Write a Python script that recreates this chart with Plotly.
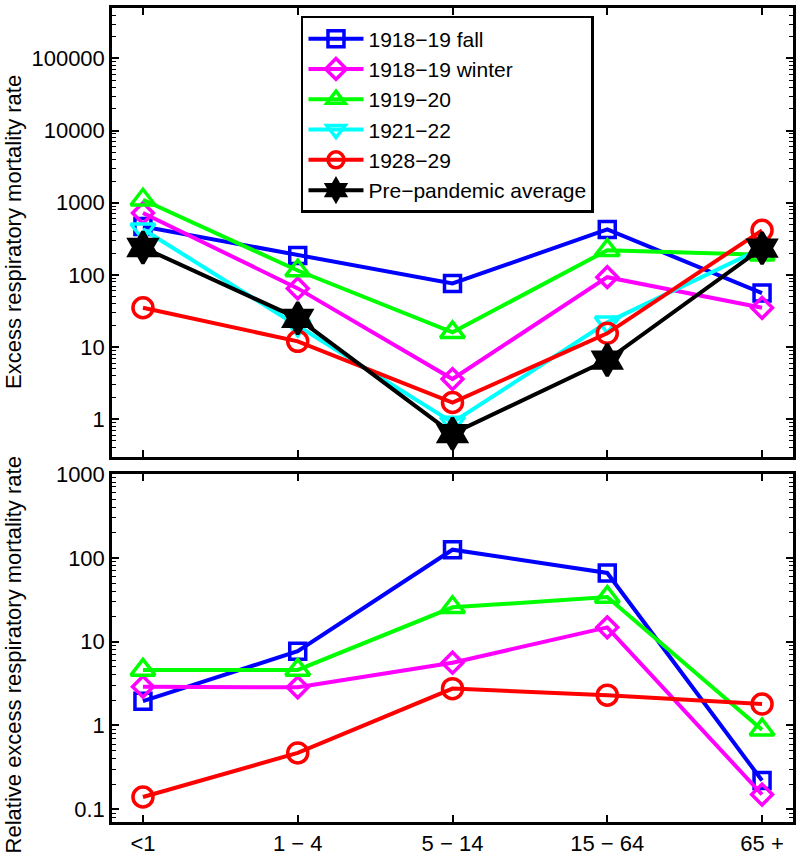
import plotly.graph_objects as go

age_groups = ["<1", "1 − 4", "5 − 14", "15 − 64", "65 +"]
series_names = ["1918−19 fall", "1918−19 winter", "1919−20", "1921−22", "1928−29", "Pre−pandemic average"]

# Top panel: excess respiratory mortality rate
excess_fall = [470, 186, 76, 427, 56]
excess_winter = [720, 65, 3.6, 93, 35]
excess_1919_20 = [1100, 115, 16, 220, 190]
excess_1921_22 = [430, 20, 0.9, 22, 235]
excess_1928_29 = [35, 12, 1.7, 15.5, 415]
excess_prepandemic = [240, 25, 0.63, 6.6, 235]

# Bottom panel: relative excess respiratory mortality rate
rel_fall = [1.95, 7.7, 125, 66, 0.22]
rel_winter = [2.9, 2.85, 5.6, 14.8, 0.15]
rel_1919_20 = [4.6, 4.6, 25.7, 34, 0.89]
rel_1928_29 = [0.14, 0.47, 2.75, 2.3, 1.8]

top_ticks = [1, 10, 100, 1000, 10000, 100000]
top_ticktext = ["1", "10", "100", "1000", "10000", "100000"]
bot_ticks = [0.1, 1, 10, 100, 1000]
bot_ticktext = ["0.1", "1", "10", "100", "1000"]

colors = ["#0000FF", "#FF00FF", "#00FF00", "#00FFFF", "#FF0000", "#000000"]
symbols = ["square-open", "diamond-open", "triangle-up-open", "triangle-down-open", "circle-open", "hexagram"]
sizes = [16, 16, 21, 21, 20, 24]

FONT = "Liberation Sans, Arial, Helvetica, sans-serif"


def minor_vals(lo_exp, hi_exp):
    out = []
    for e in range(lo_exp, hi_exp + 1):
        for m in range(2, 10):
            out.append(m * 10.0 ** e)
    return out


fig = go.Figure()

top_data = [excess_fall, excess_winter, excess_1919_20, excess_1921_22, excess_1928_29, excess_prepandemic]
for i, vals in enumerate(top_data):
    fig.add_trace(go.Scatter(
        x=age_groups, y=vals, name=series_names[i], mode="lines+markers",
        line=dict(color=colors[i], width=4),
        marker=dict(symbol=symbols[i], size=sizes[i], color=colors[i],
                    line=dict(color=colors[i], width=3.5)),
        xaxis="x", yaxis="y", showlegend=True))

bot_data = [(0, rel_fall), (1, rel_winter), (2, rel_1919_20), (4, rel_1928_29)]
for i, vals in bot_data:
    fig.add_trace(go.Scatter(
        x=age_groups, y=vals, name=series_names[i], mode="lines+markers",
        line=dict(color=colors[i], width=4),
        marker=dict(symbol=symbols[i], size=sizes[i], color=colors[i],
                    line=dict(color=colors[i], width=3.5)),
        xaxis="x2", yaxis="y2", showlegend=False))

axis_common = dict(showline=True, linecolor="black", linewidth=2.5, mirror="ticks",
                   ticks="inside", ticklen=7, tickwidth=1.5, tickcolor="black",
                   showgrid=False, zeroline=False, automargin=False,
                   tickfont=dict(family=FONT, size=22, color="black"))

fig.update_layout(
    template="none",
    width=800, height=859,
    margin=dict(l=112, r=7, t=8, b=37, autoexpand=False),
    paper_bgcolor="white", plot_bgcolor="white",
    font=dict(family=FONT, size=22, color="black"),
    xaxis=dict(type="category", range=[-0.2, 4.2], domain=[0, 1], anchor="y",
               showticklabels=False, **axis_common),
    yaxis=dict(type="log", range=[-0.52, 5.70], domain=[0.4488, 1], anchor="x",
               tickvals=top_ticks, ticktext=top_ticktext,
               minor=dict(tickvals=minor_vals(-1, 5), ticks="inside", ticklen=4,
                          tickwidth=1, tickcolor="black", showgrid=False),
               **axis_common),
    xaxis2=dict(type="category", range=[-0.2, 4.2], domain=[0, 1], anchor="y2",
                tickvals=age_groups, ticktext=age_groups, **axis_common),
    yaxis2=dict(type="log", range=[-1.152, 3], domain=[0, 0.4275], anchor="x2",
                tickvals=bot_ticks, ticktext=bot_ticktext,
                minor=dict(tickvals=minor_vals(-2, 2), ticks="inside", ticklen=4,
                           tickwidth=1, tickcolor="black", showgrid=False),
                **axis_common),
    legend=dict(x=0.2775, y=0.9902, xanchor="left", yanchor="top",
                bgcolor="white", bordercolor="black", borderwidth=2.5,
                font=dict(family=FONT, size=21, color="black"),
                tracegroupgap=0, itemwidth=55),
    showlegend=True,
    annotations=[
        dict(text="Excess respiratory mortality rate", textangle=-90,
             xref="paper", yref="paper", x=-0.1454, y=0.7248,
             xanchor="center", yanchor="middle", showarrow=False,
             font=dict(family=FONT, size=22, color="black")),
        dict(text="Relative excess respiratory mortality rate", textangle=-90,
             xref="paper", yref="paper", x=-0.1454, y=0.2058,
             xanchor="center", yanchor="middle", showarrow=False,
             font=dict(family=FONT, size=22, color="black")),
    ],
)

# Remove the browser's default 8 px body margin so the 800x859 figure fills the window.
fig.write_html("out.html",
               config={"displayModeBar": False},
               post_script="document.body.style.margin='0px'; document.body.style.overflow='hidden';")
